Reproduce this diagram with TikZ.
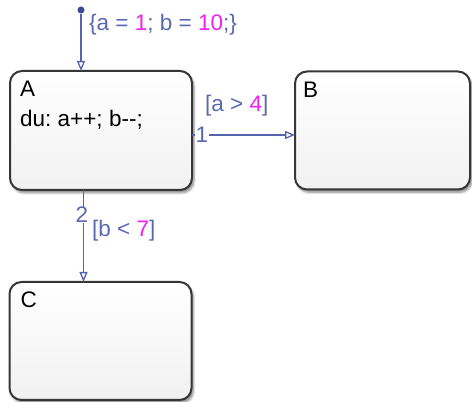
\documentclass[tikz,border=0pt]{standalone}
\usepackage{fontspec}
\setmainfont{Liberation Sans}
\usetikzlibrary{arrows.meta, shadows.blur}

\definecolor{stateline}{HTML}{363636}
\definecolor{statefill}{HTML}{F1F1F1}
\definecolor{transline}{HTML}{5564AE}
\definecolor{labeltext}{HTML}{5A68B0}
\definecolor{numtext}{HTML}{F020F0}
\definecolor{dotblue}{HTML}{3A4898}

\newcommand{\valnum}[1]{\textcolor{numtext}{#1}}

\tikzset{
  chartstate/.style={rectangle, rounded corners=12pt, draw=stateline, line width=2pt,
    top color=white, bottom color=statefill, inner sep=0pt, outer sep=0pt,
    blur shadow={shadow xshift=2pt, shadow yshift=-3pt, shadow blur steps=6, shadow opacity=45}},
  statetext/.style={anchor=base west, inner sep=0pt, text=black},
  guardtext/.style={anchor=base west, inner sep=0pt, text=labeltext},
  prio/.style={fill=white, inner sep=0.5pt, text=labeltext},
  trans/.style={draw=transline, line width=1.3pt, ->}
}

\begin{document}
\frenchspacing
\begin{tikzpicture}[x=1pt, y=1pt, >={Triangle[open, length=10pt, width=8pt]},
  font=\fontsize{22.5}{26}\selectfont]

\useasboundingbox (0,0) rectangle (472,402);

% States
\node[chartstate, minimum width=182pt, minimum height=119pt] (A) at (101,271.5) {};
\node[chartstate, minimum width=175pt, minimum height=118pt] (B) at (382.5,271.5) {};
\node[chartstate, minimum width=182pt, minimum height=118pt] (C) at (100.5,61) {};

% State names and actions
\node[statetext] (Aname) at ([xshift=10pt, yshift=-26pt]A.north west) {A};
\node[statetext] (Aaction) at ([yshift=-30pt]Aname.base west) {du: a++; b-{}-;};
\node[statetext] (Bname) at ([xshift=8pt, yshift=-26pt]B.north west) {B};
\node[statetext] (Cname) at ([xshift=11pt, yshift=-26pt]C.north west) {C};

% Default transition
\node[circle, fill=dotblue, inner sep=0pt, minimum size=7pt] (init) at (81,392) {};
\draw[trans] (init) -- (init |- A.north);
\node[guardtext] (initlabel) at (89,371)
  {\{a = \valnum{1}; b = \valnum{10};\}};

% A -> B
\draw[trans] ([yshift=-4.5pt]A.east) -- ([yshift=-4.5pt]B.west);
\node[prio] (prioAB) at (202,267) {1};
\node[guardtext] (guardAB) at (205,290) {[a > \valnum{4}]};

% A -> C
\draw[trans] ([xshift=-17.5pt]A.south) -- ([xshift=-17.5pt]A.south |- C.north);
\node[prio] (prioAC) at (82,187) {2};
\node[guardtext] (guardAC) at (92,165) {[b < \valnum{7}]};

\end{tikzpicture}
\end{document}
